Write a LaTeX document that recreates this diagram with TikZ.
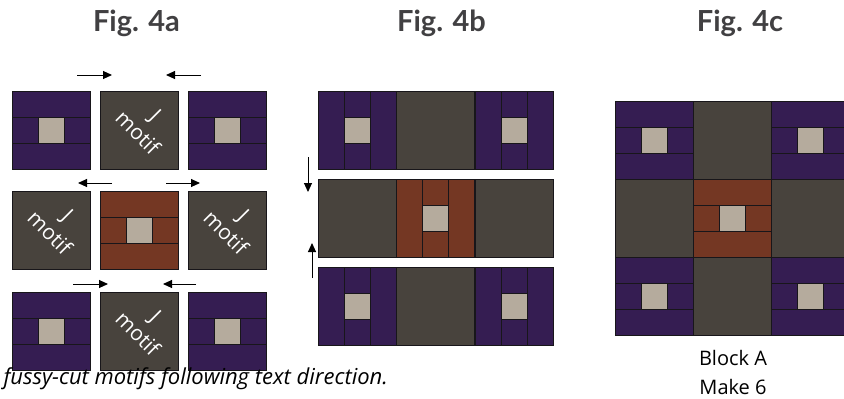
\documentclass[tikz,border=0pt]{standalone}
\usepackage{fontspec}
\setmainfont{Open Sans}
\newfontfamily\titlefont{Lato}
\usetikzlibrary{arrows.meta}

\definecolor{quiltpurple}{HTML}{351D52}
\definecolor{quiltgray}{HTML}{48433D}
\definecolor{quiltbrown}{HTML}{743723}
\definecolor{quiltlight}{HTML}{B5AB9D}
\definecolor{seamcol}{HTML}{18161A}
\definecolor{titlecol}{HTML}{414042}

\tikzset{
  seam/.style={draw=seamcol, line width=1pt},
  motifsq/.style={fill=quiltgray, draw=seamcol, line width=1pt, minimum size=78pt, inner sep=0pt, outer sep=0pt},
  motiftext/.style={text=white, inner sep=0pt, font=\fontsize{21}{25}\selectfont},
  pusharrow/.style={-{Triangle[length=9pt,width=8pt]}, line width=1pt, black},
  figtitle/.style={font=\titlefont\bfseries\fontsize{29}{32}\selectfont, text=titlecol, anchor=base},
}

% motif label turned to follow the print direction
\newcommand{\motiflabel}{\rotatebox[origin=c]{-45}{\begin{tabular}{@{}c@{}}J\\motif\end{tabular}}}

% block with horizontal strips round a light centre square
\newcommand{\hblock}[3]{%
  \begin{scope}[shift={(#1,#2)}]
    \fill[#3, seam] (0,0) rectangle (78,78);
    \draw[seam] (0,26) -- (78,26) (0,52) -- (78,52);
    \draw[seam, fill=quiltlight] (26,26) rectangle (52,52);
  \end{scope}}
% same block turned a quarter (vertical strips)
\newcommand{\vblock}[3]{%
  \begin{scope}[shift={(#1,#2)}]
    \fill[#3, seam] (0,0) rectangle (78,78);
    \draw[seam] (26,0) -- (26,78) (52,0) -- (52,78);
    \draw[seam, fill=quiltlight] (26,26) rectangle (52,52);
  \end{scope}}
% plain background square
\newcommand{\plainsq}[2]{\fill[quiltgray, seam] (#1,#2) rectangle ++(78,78);}

\begin{document}
\begin{tikzpicture}[x=1pt, y=-1pt]
  \useasboundingbox (0,0) rectangle (844,399);
  \clip (0,0) rectangle (844,399);

  % titles
  \node[figtitle] (t4a) at (136.5,31) {Fig. 4a};
  \node[figtitle] (t4b) at (441.5,31) {Fig. 4b};
  \node[figtitle] (t4c) at (740,31) {Fig. 4c};

  % ---------- Fig. 4a : separate squares ----------
  \foreach \x/\y in {12/91, 188/91, 12/292, 188/292} {
    \hblock{\x}{\y}{quiltpurple}
  }
  \hblock{100}{191}{quiltbrown}

  \foreach \n/\x/\y in {top/139/130, left/51/230, right/227/230, bot/139/331} {
    \node[motifsq] (m\n) at (\x,\y) {};
    \node[motiftext] (w\n) at ([shift={(6,-4)}]m\n.center) {\motiflabel};
  }

  % pressing arrows
  \foreach \n/\xa/\xb/\y in {1/77/112/75, 2/201/166/75, 3/112/78/183, 4/166/200/183, 5/73/108/284, 6/196/163/284} {
    \coordinate (s\n) at (\xa,\y);
    \coordinate (e\n) at (\xb,\y);
    \draw[pusharrow] (s\n) -- (e\n);
  }

  \node[anchor=west, font=\itshape\fontsize{22}{26}\selectfont] (cap) at (0,379) {fussy-cut motifs following text direction.};

  % ---------- Fig. 4b : rows ----------
  \foreach \y in {91, 267} {
    \vblock{318}{\y}{quiltpurple}
    \plainsq{396}{\y}
    \vblock{475}{\y}{quiltpurple}
  }
  \plainsq{318}{179}
  \vblock{396}{179}{quiltbrown}
  \plainsq{475}{179}

  \coordinate (d1) at (308,157); \coordinate (d2) at (308,192);
  \coordinate (u1) at (312,278); \coordinate (u2) at (312,243);
  \draw[pusharrow] (d1) -- (d2);
  \draw[pusharrow] (u1) -- (u2);

  % ---------- Fig. 4c : finished block ----------
  \foreach \x/\y in {615/101, 771/101, 615/257, 771/257} {
    \hblock{\x}{\y}{quiltpurple}
  }
  \foreach \x/\y in {693/101, 615/179, 771/179, 693/257} {
    \plainsq{\x}{\y}
  }
  \hblock{693}{179}{quiltbrown}

  \node[align=center, font=\fontsize{20}{29}\selectfont] (blk) at (733,372) {Block A\\Make 6};
\end{tikzpicture}
\end{document}
